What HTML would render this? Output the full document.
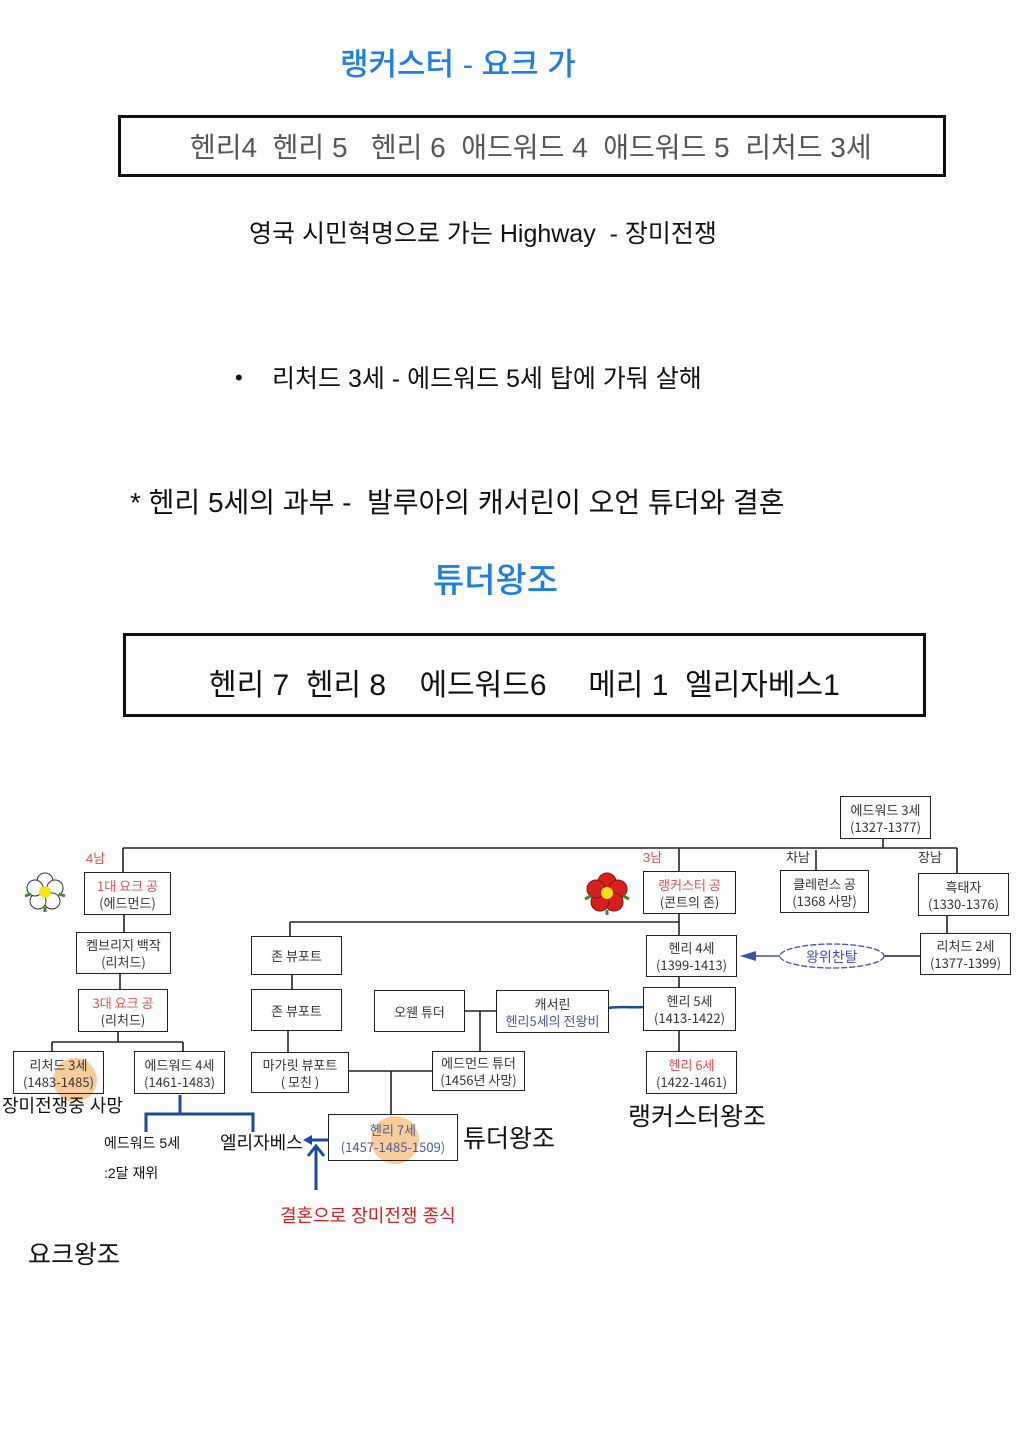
<!DOCTYPE html>
<html><head><meta charset="utf-8">
<style>
html,body{margin:0;padding:0;background:#fff}
body{width:1019px;height:1440px;position:relative;overflow:hidden;font-family:"Liberation Sans","Noto Sans CJK KR",sans-serif}
.t{position:absolute;white-space:pre;line-height:1}
.b{position:absolute;border:1.5px solid #222;box-sizing:border-box;background:#fff;font-size:13px;line-height:17px;text-align:center;color:#333;white-space:pre;display:flex;flex-direction:column;justify-content:center;font-family:"Noto Sans CJK KR",sans-serif}
.r{color:#d9534f}
.bl{color:#4a5a9a}
svg{position:absolute;left:0;top:0}
</style></head><body>
<div class="t" style="left:340px;top:49px;font-size:31px;color:#1e7fe0;font-weight:500">랭커스터 - 요크 가</div>
<div style="position:absolute;left:118px;top:115px;width:828px;height:62px;border:3px solid #111;box-sizing:border-box"></div>
<div class="t" style="left:190px;top:134px;font-size:28px;color:#555">헨리4  헨리 5   헨리 6  애드워드 4  애드워드 5  리처드 3세</div>
<div class="t" style="left:249px;top:222px;font-size:25px;color:#111">영국 시민혁명으로 가는 Highway  - 장미전쟁</div>
<div class="t" style="left:235px;top:367px;font-size:22px;color:#111">•</div>
<div class="t" style="left:272px;top:367px;font-size:25px;color:#111">리처드 3세 - 에드워드 5세 탑에 가둬 살해</div>
<div class="t" style="left:130px;top:489px;font-size:28px;color:#111">* 헨리 5세의 과부 -  발루아의 캐서린이 오언 튜더와 결혼</div>
<div class="t" style="left:433px;top:564px;font-size:34px;color:#1e7fe0;font-weight:500">튜더왕조</div>
<div style="position:absolute;left:123px;top:633px;width:803px;height:84px;border:3px solid #111;box-sizing:border-box"></div>
<div class="t" style="left:209px;top:671px;font-size:30px;color:#111">헨리 7  헨리 8    에드워드6     메리 1  엘리자베스1</div>

<svg width="1019" height="1440">
<g stroke="#222" stroke-width="1.6" fill="none">
<path d="M123 848H957M883 838V848M123 848V873M679 848V872M816 850V870M957 848V873M947 915V933"/>
<path d="M679 913V936M290 922H679M290 922V936M292 974V989M679 976V987M679 1030V1051"/>
<path d="M464 1011H496M480 1011V1051M288 1030V1052M348 1071H432M391 1071V1114"/>
<path d="M124 915V932M120 973V989M118 1031V1042M52 1042H183M52 1042V1051M183 1042V1051"/>
<path d="M884 956H920"/>
</g>
<path d="M608 1008C620 1006 630 1008 643 1007" stroke="#1a4a9a" stroke-width="2.5" fill="none"/>
<line x1="780" y1="956" x2="752" y2="956" stroke="#4050b0" stroke-width="1.5"/>
<polygon points="740,956 756,951 756,961" fill="#4050b0"/>
<ellipse cx="832" cy="956" rx="52" ry="12" fill="#fff" stroke="#4050b0" stroke-width="1.3" stroke-dasharray="6 2"/>
<circle cx="75" cy="1080" r="22" fill="#f7b871" opacity="0.7"/>
<circle cx="395" cy="1140" r="24" fill="#f7b871" opacity="0.7"/>
<g stroke="#1a4a9a" stroke-width="3" fill="none">
<path d="M180 1095V1114M146 1132V1114H253V1132"/>
<path d="M328 1140H310M316 1190V1148M308 1156L316 1146L324 1156"/>
</g>
<polygon points="303,1140 312,1135 312,1145" fill="#1a4a9a"/>
<g transform="translate(45,892)">
<g fill="#fff" stroke="#333" stroke-width="1">
<circle cx="0" cy="-11" r="8"/><circle cx="10" cy="-4" r="8"/><circle cx="7" cy="9" r="8"/><circle cx="-7" cy="9" r="8"/><circle cx="-10" cy="-4" r="8"/>
</g>
<circle r="6" fill="#f2e21a"/>
<path d="M-20 4L-14 2M20 4L14 2M0 20L0 15" stroke="#3a8a3a" stroke-width="3"/>
</g>
<g transform="translate(607,893)">
<g fill="#d62020" stroke="#8a1010" stroke-width="1">
<circle cx="0" cy="-11" r="9"/><circle cx="11" cy="-4" r="9"/><circle cx="7" cy="9" r="9"/><circle cx="-7" cy="9" r="9"/><circle cx="-11" cy="-4" r="9"/>
</g>
<circle r="6" fill="#f2e21a"/>
<path d="M-22 6L-16 3M22 6L16 3M0 22L0 17" stroke="#3a8a3a" stroke-width="3"/>
</g>
</svg>

<div class="t" style="left:806px;top:950px;font-size:14px;color:#4050b0;font-family:'Noto Sans CJK KR',sans-serif">왕위찬탈</div>

<div class="b" style="left:840px;top:796px;width:91px;height:43px">에드워드 3세
(1327-1377)</div>
<div class="t r" style="left:86px;top:852px;font-size:13px">4남</div>
<div class="t r" style="left:643px;top:851px;font-size:13px">3남</div>
<div class="t" style="left:786px;top:851px;font-size:13px;color:#333">차남</div>
<div class="t" style="left:918px;top:851px;font-size:13px;color:#333">장남</div>
<div class="b" style="left:84px;top:872px;width:87px;height:43px"><span class="r">1대 요크 공</span>(에드먼드)</div>
<div class="b" style="left:643px;top:871px;width:93px;height:43px"><span class="r">랭커스터 공</span>(콘트의 존)</div>
<div class="b" style="left:780px;top:870px;width:89px;height:43px">클레런스 공
(1368 사망)</div>
<div class="b" style="left:918px;top:873px;width:91px;height:43px">흑태자
(1330-1376)</div>
<div class="b" style="left:920px;top:933px;width:91px;height:42px">리처드 2세
(1377-1399)</div>
<div class="b" style="left:646px;top:935px;width:91px;height:42px">헨리 4세
(1399-1413)</div>
<div class="b" style="left:76px;top:932px;width:95px;height:42px">켐브리지 백작
(리처드)</div>
<div class="b" style="left:251px;top:936px;width:91px;height:39px">존 뷰포트</div>
<div class="b" style="left:78px;top:989px;width:90px;height:43px"><span class="r">3대 요크 공</span>(리처드)</div>
<div class="b" style="left:251px;top:989px;width:91px;height:42px">존 뷰포트</div>
<div class="b" style="left:374px;top:990px;width:91px;height:42px">오웬 튜더</div>
<div class="b" style="left:496px;top:990px;width:113px;height:43px">캐서린
<span class="bl">헨리5세의 전왕비</span></div>
<div class="b" style="left:643px;top:987px;width:93px;height:44px">헨리 5세
(1413-1422)</div>
<div class="b" style="left:13px;top:1051px;width:91px;height:43px;background:transparent">리처드 3세
(1483-1485)</div>
<div class="b" style="left:134px;top:1051px;width:91px;height:43px">에드워드 4세
(1461-1483)</div>
<div class="b" style="left:251px;top:1052px;width:98px;height:41px">마가릿 뷰포트
( 모친 )</div>
<div class="b" style="left:432px;top:1051px;width:93px;height:40px">에드먼드 튜더
(1456년 사망)</div>
<div class="b" style="left:646px;top:1051px;width:91px;height:43px"><span class="r">헨리 6세</span>(1422-1461)</div>
<div class="b" style="left:328px;top:1114px;width:130px;height:47px;background:transparent;color:#4a5a9a">헨리 7세
(1457-1485-1509)</div>

<div class="t" style="left:2px;top:1097px;font-size:18px;color:#111">장미전쟁중 사망</div>
<div class="t" style="left:104px;top:1136px;font-size:14px;color:#111">에드워드 5세</div>
<div class="t" style="left:104px;top:1166px;font-size:14px;color:#111">:2달 재위</div>
<div class="t" style="left:220px;top:1134px;font-size:18px;color:#111">엘리자베스</div>
<div class="t" style="left:463px;top:1127px;font-size:25px;color:#111">튜더왕조</div>
<div class="t" style="left:628px;top:1105px;font-size:25px;color:#111">랭커스터왕조</div>
<div class="t" style="left:280px;top:1207px;font-size:18px;color:#d02020">결혼으로 장미전쟁 종식</div>
<div class="t" style="left:28px;top:1243px;font-size:25px;color:#111">요크왕조</div>
</body></html>
